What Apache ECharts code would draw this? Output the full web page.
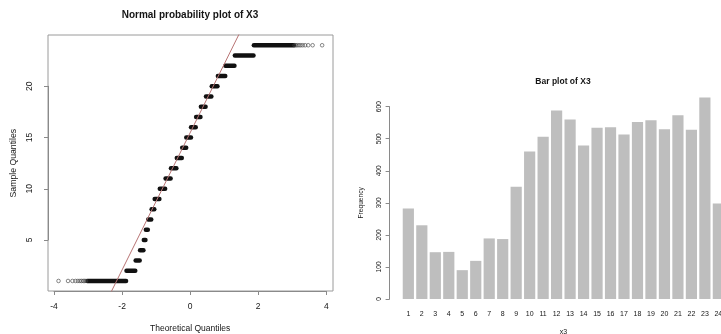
<!DOCTYPE html>
<html>
<head>
<meta charset="utf-8">
<script src="https://cdn.jsdelivr.net/npm/echarts@6/dist/echarts.min.js"></script>
<style>html,body{margin:0;padding:0;background:#fff}#c{width:721px;height:334px}</style>
</head>
<body>
<div id="c"></div>
<script>
// ---- Normal probability plot of X3 ----
const qqLevels   = [1,2,3,4,5,6,7,8,9,10,11,12,13,14,15,16,17,18,19,20,21,22,23,24];
// theoretical-quantile range covered by the dense run of points at each level
const qqSegStart = [-3.03,-1.88,-1.61,-1.48,-1.37,-1.31,-1.24,-1.14,-1.05,-0.90,-0.73,-0.57,-0.40,-0.24,-0.12,0.02,0.17,0.31,0.46,0.63,0.81,1.03,1.31,1.87];
const qqSegEnd   = [-1.89,-1.62,-1.49,-1.38,-1.32,-1.25,-1.15,-1.06,-0.91,-0.74,-0.58,-0.41,-0.25,-0.12,0.02,0.16,0.30,0.45,0.62,0.80,1.03,1.30,1.86,3.05];
// separate hollow points in the tails
const qqTailLowX  = [-3.88,-3.60,-3.47,-3.38,-3.31,-3.25,-3.20,-3.15,-3.11,-3.07];
const qqTailLowY  = 1;
const qqTailHighX = [3.07,3.11,3.15,3.20,3.25,3.31,3.38,3.47,3.60,3.88];
const qqTailHighY = 24;
// reference line (through the quartiles)
const qqIntercept = 15.5;
const qqSlope = 6.68;
const qqXTicks = [-4,-2,0,2,4];
const qqYTicks = [5,10,15,20];

// ---- Bar plot of X3 ----
const x3Categories = ['1','2','3','4','5','6','7','8','9','10','11','12','13','14','15','16','17','18','19','20','21','22','23','24'];
const x3Counts = [282,230,146,147,90,119,189,187,350,460,506,588,560,479,534,536,513,552,558,530,573,528,629,298];
const freqTicks = [0,100,200,300,400,500,600];

const FONT = 'Liberation Sans, Arial, Helvetica, sans-serif';
const AX = '#8a8a8a';
const TX = '#151515';

const xMin = -4.19, xMax = 4.2, yMin = 0.02, yMax = 25.0;

const chart = echarts.init(document.getElementById('c'), null, {renderer: 'canvas'});

const segData = qqLevels.map((lv, i) => [qqSegStart[i], qqSegEnd[i], lv]);
const tailData = qqTailLowX.map(x => [x, qqTailLowY]).concat(qqTailHighX.map(x => [x, qqTailHighY]));
const lineData = [[xMin, qqIntercept + qqSlope * xMin], [xMax, qqIntercept + qqSlope * xMax]];

chart.setOption({
  animation: false,
  backgroundColor: '#fff',
  textStyle: {fontFamily: FONT},
  title: [
    {text: 'Normal probability plot of X3', left: 190, top: 10, textAlign: 'center', padding: 0,
     textStyle: {fontSize: 10, fontWeight: 'bold', color: TX, fontFamily: FONT}},
    {text: 'Bar plot of X3', left: 563, top: 77, textAlign: 'center', padding: 0,
     textStyle: {fontSize: 8.5, fontWeight: 'bold', color: TX, fontFamily: FONT}}
  ],
  grid: [
    {left: 48, top: 35, width: 285, height: 256, show: true, borderColor: '#9a9a9a', borderWidth: 1,
     backgroundColor: 'transparent', containLabel: false, outerBoundsMode: 'none'},
    {left: 54, top: 86.3, width: 272.3, height: 153.7, containLabel: false, outerBoundsMode: 'none'},
    {left: 401.6, top: 106.7, width: 323.5, height: 192.3, containLabel: false, outerBoundsMode: 'none'}
  ],
  xAxis: [
    {gridIndex: 0, type: 'value', min: xMin, max: xMax, show: false},
    {gridIndex: 1, type: 'value', min: qqXTicks[0], max: qqXTicks[qqXTicks.length - 1], interval: 2, offset: 51,
     axisLine: {show: true, onZero: false, lineStyle: {color: AX, width: 1}},
     axisTick: {show: true, length: 4, lineStyle: {color: AX}},
     axisLabel: {margin: 11, fontSize: 8.5, color: TX, fontFamily: FONT},
     splitLine: {show: false},
     name: 'Theoretical Quantiles', nameLocation: 'middle', nameGap: 33,
     nameTextStyle: {fontSize: 8.5, color: TX, fontFamily: FONT}},
    {gridIndex: 2, type: 'category', data: x3Categories,
     axisLine: {show: false, onZero: false}, axisTick: {show: false},
     axisLabel: {interval: 0, margin: 12, fontSize: 7, color: TX, fontFamily: FONT, hideOverlap: false},
     name: 'x3', nameLocation: 'middle', nameGap: 30,
     nameTextStyle: {fontSize: 7, color: TX, fontFamily: FONT}}
  ],
  yAxis: [
    {gridIndex: 0, type: 'value', min: yMin, max: yMax, show: false},
    {gridIndex: 1, type: 'value', min: qqYTicks[0], max: qqYTicks[qqYTicks.length - 1], interval: 5, offset: 6,
     axisLine: {show: true, onZero: false, lineStyle: {color: AX, width: 1}},
     axisTick: {show: true, length: 4, lineStyle: {color: AX}},
     axisLabel: {rotate: 90, margin: 14, fontSize: 8.5, color: TX, fontFamily: FONT},
     splitLine: {show: false},
     name: 'Sample Quantiles', nameLocation: 'middle', nameRotate: 90, nameGap: 30,
     nameTextStyle: {fontSize: 8.7, color: TX, fontFamily: FONT}},
    {gridIndex: 2, type: 'value', min: freqTicks[0], max: freqTicks[freqTicks.length - 1], interval: 100, offset: 12,
     axisLine: {show: true, onZero: false, lineStyle: {color: AX, width: 1}},
     axisTick: {show: true, length: 4, lineStyle: {color: AX}},
     axisLabel: {rotate: 90, margin: 7, fontSize: 6.6, color: TX, fontFamily: FONT},
     splitLine: {show: false},
     name: 'Frequency', nameLocation: 'middle', nameRotate: 90, nameGap: 25,
     nameTextStyle: {fontSize: 6.6, color: TX, fontFamily: FONT}}
  ],
  series: [
    {type: 'custom', xAxisIndex: 0, yAxisIndex: 0, data: segData,
     encode: {x: [0, 1], y: 2},
     renderItem: function (params, api) {
       const p1 = api.coord([api.value(0), api.value(2)]);
       const p2 = api.coord([api.value(1), api.value(2)]);
       return {type: 'line', shape: {x1: p1[0], y1: p1[1], x2: p2[0], y2: p2[1]},
               style: {stroke: '#111', lineWidth: 4.4, lineCap: 'round'}};
     }},
    {type: 'scatter', xAxisIndex: 0, yAxisIndex: 0, data: tailData,
     symbol: 'circle', symbolSize: 3.6,
     itemStyle: {color: 'rgba(255,255,255,0)', borderColor: '#444', borderWidth: 0.8}},
    {type: 'line', xAxisIndex: 0, yAxisIndex: 0, data: lineData, clip: true,
     showSymbol: false, symbol: 'none',
     lineStyle: {color: '#b87474', width: 1}},
    {type: 'bar', xAxisIndex: 2, yAxisIndex: 2, data: x3Counts, barWidth: 11.2, clip: false,
     itemStyle: {color: '#bebebe'}}
  ]
});
</script>
</body>
</html>
